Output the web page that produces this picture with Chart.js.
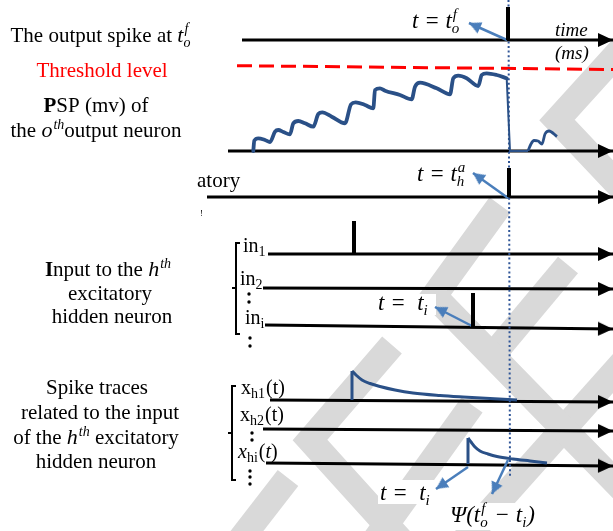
<!DOCTYPE html>
<html>
<head>
<meta charset="utf-8">
<title>Output spike, PSP and spike traces</title>
<script src="https://cdn.jsdelivr.net/npm/chart.js@4.4.1/dist/chart.umd.min.js"></script>
<style>
  html, body { margin: 0; padding: 0; background: #fff; }
  #diagram { display: block; }
</style>
</head>
<body>
<canvas id="diagram" width="613" height="531"></canvas>
<script>
// Time rows: output spike, threshold, PSP, hidden spike, in1, in2, ini, xh1, xh2, xhi
const rowStartX = [242, 237, 228, 207, 268, 263, 265, 270, 263, 266];
const rowEndX = [613, 613, 613, 613, 613, 613, 613, 613, 613, 613];
const rowStartY = [40, 65.7, 151, 197, 254, 288, 325, 400, 429, 463];
const rowEndY = [40, 69.5, 151, 197, 254, 289, 329, 402, 431, 466];
const thresholdRow = 1;

// Spikes (output, hidden, in1, ini)
const spikeX = [508, 509, 354, 473];
const spikeBase = [40, 197, 254, 327];
const spikeTop = [7, 168, 221, 293];

// Membrane potential of the output neuron
const pspX = [253.3, 254.3, 258.3, 265, 270, 275, 278.3, 283.3, 290, 293.3, 298.3, 305, 313.3,
  318.3, 322.3, 331.7, 345, 351, 355.7, 365, 373.3, 375, 380, 385, 400, 411.7, 415, 420,
  436.7, 450, 453.3, 458.3, 466.7, 478.3, 481.7, 486.7, 496.7, 506.7];
const pspY = [151, 140.7, 138.3, 140, 142, 131.7, 130, 132, 134.3, 123.3, 121, 123.3, 126.7,
  114, 112.3, 116.7, 123.3, 104.3, 102.3, 105, 108.3, 90, 88.3, 90.7, 95, 99.3, 86.7, 82.7,
  88.3, 94.3, 78.3, 75.7, 78.3, 86, 75, 73.3, 75, 78.3];
const resetX = [506.7, 510, 528];
const resetY = [78.3, 151, 151];
const afterX = [528, 531, 534, 538, 542, 545, 549, 557];
const afterY = [151, 144, 140.5, 141, 144, 134, 131, 136.5];

// Spike traces
const trace1X = [352, 352, 356, 362, 370, 380, 395, 413, 440, 463, 490, 517];
const trace1Y = [400, 371, 375, 380, 383.5, 386.5, 390, 393, 395.5, 397, 398.5, 400];
const trace2X = [468, 468, 471, 475, 480, 488, 497, 513, 530, 547];
const trace2Y = [464, 438, 442, 447, 451, 454, 456.5, 459, 461, 463];

// Firing time marker
const markX = [508.5, 510];
const markY = [0, 477];

// Annotation arrows (from -> tip)
const annFromX = [507, 508, 472, 468, 508];
const annFromY = [40, 198, 326, 467, 460];
const annToX = [469, 473, 435, 436, 492];
const annToY = [23, 173, 307, 489, 494];

// Vertical ellipsis dots
const dotX = [249, 249, 250, 250, 252, 252, 250, 250, 250];
const dotY = [294, 302, 338, 346, 433, 440, 471, 477, 484];

// Brackets
const bracketInX = [240, 236, 236, 240];
const bracketInY = [243, 243, 334, 334];
const bracketTrX = [236, 232, 232, 236];
const bracketTrY = [386, 386, 480, 480];
const tickX = [[236, 232], [232, 228]];
const tickY = [[288, 288], [433, 433]];

// Background watermark strokes
const wmX = [[625, 557, 625], [500, 434, 625], [392, 310, 405], [497, 568], [240, 288], [375, 472], [625, 460]];
const wmY = [[45, 120, 192], [205, 296, 492], [345, 440, 545], [350, 265], [540, 478], [540, 405], [360, 545]];

const INK = '#000000';
const PSP_BLUE = '#2a5087';
const ARROW_BLUE = '#4a7ebb';
const GREY = '#d9d9d9';

function pts(xs, ys) {
  return xs.map((x, i) => ({ x: x, y: ys[i] }));
}

function makeHead(color, len, half) {
  const c = document.createElement('canvas');
  c.width = len * 2;
  c.height = half * 2;
  const g = c.getContext('2d');
  g.fillStyle = color;
  g.beginPath();
  g.moveTo(len, half);
  g.lineTo(0, 0);
  g.lineTo(0, half * 2);
  g.closePath();
  g.fill();
  return c;
}
const blackHead = makeHead(INK, 15, 7);
const blueHead = makeHead(ARROW_BLUE, 12, 6);

function line(xs, ys, color, width, extra) {
  return Object.assign({
    data: pts(xs, ys),
    showLine: true,
    borderColor: color,
    backgroundColor: color,
    borderWidth: width,
    pointRadius: 0,
    tension: 0,
    order: 3
  }, extra || {});
}

function arrowLine(xs, ys, color, width, head, extra) {
  const n = xs.length;
  const ang = Math.atan2(ys[n - 1] - ys[n - 2], xs[n - 1] - xs[n - 2]) * 180 / Math.PI;
  return line(xs, ys, color, width, Object.assign({
    pointRadius: ctx => ctx.dataIndex === n - 1 ? 1 : 0,
    pointStyle: head,
    rotation: ang
  }, extra || {}));
}

const datasets = [];

// watermark first in the list but drawn underneath (highest order)
wmX.forEach((xs, i) => {
  datasets.push(line(xs, wmY[i], GREY, 26, { order: 20, wm: true, borderJoinStyle: 'miter' }));
});

rowStartX.forEach((x0, i) => {
  if (i === thresholdRow) {
    datasets.push(line([x0, rowEndX[i]], [rowStartY[i], rowEndY[i]], '#ff0000', 3,
      { borderDash: [15, 7], order: 6 }));
  } else {
    datasets.push(arrowLine([x0, rowEndX[i]], [rowStartY[i], rowEndY[i]], INK, 3, blackHead, { order: 6 }));
  }
});

// dotted firing-time marker sits under the spikes
datasets.push(line(markX, markY, '#2f5597', 2, { borderDash: [2, 2.6], order: 5.5 }));

spikeX.forEach((x, i) => {
  datasets.push(line([x, x], [spikeBase[i], spikeTop[i]], INK, 4, { order: 1 }));
});

const smooth = { cubicInterpolationMode: 'monotone', order: 4 };
datasets.push(line(pspX, pspY, PSP_BLUE, 3.8, Object.assign({ borderCapStyle: 'round', borderJoinStyle: 'round' }, smooth)));
datasets.push(line(resetX, resetY, PSP_BLUE, 2, { order: 4 }));
datasets.push(line(afterX, afterY, PSP_BLUE, 2.8, smooth));

datasets.push(line(trace1X.slice(0, 2), trace1Y.slice(0, 2), PSP_BLUE, 3, { order: 4 }));
datasets.push(line(trace1X.slice(1), trace1Y.slice(1), PSP_BLUE, 3, smooth));
datasets.push(line(trace2X.slice(0, 2), trace2Y.slice(0, 2), PSP_BLUE, 3, { order: 4 }));
datasets.push(line(trace2X.slice(1), trace2Y.slice(1), PSP_BLUE, 3, smooth));

annFromX.forEach((x, i) => {
  datasets.push(arrowLine([x, annToX[i]], [annFromY[i], annToY[i]], ARROW_BLUE, 2.5, blueHead, { order: 2 }));
});

datasets.push({
  data: pts(dotX, dotY),
  showLine: false,
  pointRadius: 1.7,
  pointBackgroundColor: INK,
  pointBorderWidth: 0,
  order: 3
});

datasets.push(line(bracketInX, bracketInY, INK, 2));
datasets.push(line(bracketTrX, bracketTrY, INK, 2));
tickX.forEach((xs, i) => datasets.push(line(xs, tickY[i], INK, 2)));

// ---- text ----
const FACE = '"Liberation Serif", "Times New Roman", serif';
function fnt(size, style) {
  return (style || '') + ' ' + size + 'px ' + FACE;
}
const R = fnt(21), B = fnt(21, 'bold'), I = fnt(22, 'italic'), S = fnt(14, 'italic');
const U = fnt(20), US = fnt(14), UI = fnt(20, 'italic');
const M = fnt(23, 'italic'), MS = fnt(15, 'italic');

function partWidth(ctx, p) {
  ctx.font = p.f;
  if (p.sup !== undefined || p.sub !== undefined) {
    return Math.max(ctx.measureText(p.sup || '').width, ctx.measureText(p.sub || '').width) + 1;
  }
  return ctx.measureText(p.t).width;
}

function drawRich(ctx, parts, x, y, align, color) {
  const w = parts.reduce((s, p) => s + partWidth(ctx, p), 0);
  let cx = align === 'center' ? x - w / 2 : x;
  ctx.textAlign = 'left';
  ctx.textBaseline = 'alphabetic';
  parts.forEach(p => {
    ctx.fillStyle = p.c || color || INK;
    ctx.font = p.f;
    if (p.sup !== undefined || p.sub !== undefined) {
      if (p.sup) ctx.fillText(p.sup, cx + 1, y - (p.up || 9));
      if (p.sub) ctx.fillText(p.sub, cx, y + (p.down || 5));
    } else {
      ctx.fillText(p.t, cx, y);
    }
    cx += partWidth(ctx, p);
  });
}

const labels = [
  { parts: [{ t: 'The output spike at ', f: R }, { t: 't', f: I }, { sup: 'f', sub: 'o', f: S }], x: 101, y: 42, a: 'center' },
  { parts: [{ t: 'Threshold level', f: R }], x: 102, y: 77, a: 'center', c: '#ff0000' },
  { parts: [{ t: 'P', f: B }, { t: 'SP (mv) of', f: R }], x: 96, y: 112, a: 'center' },
  { parts: [{ t: 'the ', f: R }, { t: 'o', f: I }, { sup: 'th', f: S, up: 8 }, { t: 'output neuron', f: R }], x: 96, y: 137, a: 'center' },
  { parts: [{ t: 'atory', f: R }], x: 197, y: 187 },
  { parts: [{ t: '!', f: fnt(9) }], x: 200, y: 216 },
  { parts: [{ t: 'I', f: B }, { t: 'nput to the ', f: R }, { t: 'h', f: I }, { sup: 'th', f: S, up: 8 }], x: 108, y: 276, a: 'center' },
  { parts: [{ t: 'excitatory', f: R }], x: 110, y: 300, a: 'center' },
  { parts: [{ t: 'hidden neuron', f: R }], x: 112, y: 323, a: 'center' },
  { parts: [{ t: 'Spike traces', f: R }], x: 97, y: 394, a: 'center' },
  { parts: [{ t: 'related to the input', f: R }], x: 100, y: 419, a: 'center' },
  { parts: [{ t: 'of the ', f: R }, { t: 'h', f: I }, { sup: 'th', f: S, up: 8 }, { t: ' excitatory', f: R }], x: 96, y: 444, a: 'center' },
  { parts: [{ t: 'hidden neuron', f: R }], x: 96, y: 468, a: 'center' },

  { parts: [{ t: 't = t', f: M }, { sup: 'f', sub: 'o', f: MS }], x: 412, y: 28 },
  { parts: [{ t: 't = t', f: M }, { sup: 'a', sub: 'h', f: MS }], x: 417, y: 181 },
  { parts: [{ t: 't =  t', f: M }, { sub: 'i', f: MS }], x: 378, y: 310 },
  { parts: [{ t: 't =  t', f: M }, { sub: 'i', f: MS }], x: 380, y: 500 },
  { parts: [{ t: 'Ψ(t', f: M }, { sup: 'f', sub: 'o', f: MS }, { t: ' − t', f: M }, { sub: 'i', f: MS }, { t: ')', f: M }], x: 450, y: 522 },
  { parts: [{ t: 'time', f: fnt(19, 'italic') }], x: 555, y: 36 },
  { parts: [{ t: '(ms)', f: fnt(19, 'italic') }], x: 555, y: 59 },

  { parts: [{ t: 'in', f: U }, { sub: '1', f: US, down: 4 }], x: 243, y: 252 },
  { parts: [{ t: 'in', f: U }, { sub: '2', f: US, down: 4 }], x: 240, y: 285 },
  { parts: [{ t: 'in', f: U }, { sub: 'i', f: US, down: 4 }], x: 245, y: 324 },
  { parts: [{ t: 'x', f: U }, { sub: 'h1', f: US, down: 4 }, { t: '(t)', f: U }], x: 241, y: 394 },
  { parts: [{ t: 'x', f: U }, { sub: 'h2', f: US, down: 4 }, { t: '(t)', f: U }], x: 240, y: 421 },
  { parts: [{ t: 'x', f: UI }, { sub: 'hi', f: US, down: 4 }, { t: '(', f: U }, { t: 't', f: UI }, { t: ')', f: U }], x: 238, y: 458 }
];

// white backing boxes behind some math labels (cover the watermark)
const boxes = [[376, 294, 60, 21], [378, 480, 60, 24], [447, 503, 100, 27]];

let boxesDone = false;
const textPlugin = {
  id: 'diagramText',
  beforeDraw() {
    boxesDone = false;
  },
  beforeDatasetDraw(chart, args) {
    if (boxesDone || chart.data.datasets[args.index].wm) return;
    const { ctx, scales } = chart;
    ctx.save();
    ctx.fillStyle = '#ffffff';
    boxes.forEach(b => {
      const x0 = scales.x.getPixelForValue(b[0]);
      const y0 = scales.y.getPixelForValue(b[1]);
      const x1 = scales.x.getPixelForValue(b[0] + b[2]);
      const y1 = scales.y.getPixelForValue(b[1] + b[3]);
      ctx.fillRect(x0, y0, x1 - x0, y1 - y0);
    });
    ctx.restore();
    boxesDone = true;
  },
  afterDatasetsDraw(chart) {
    const { ctx, scales } = chart;
    ctx.save();
    labels.forEach(l => {
      drawRich(ctx, l.parts, scales.x.getPixelForValue(l.x), scales.y.getPixelForValue(l.y), l.a, l.c);
    });
    ctx.restore();
  }
};

new Chart(document.getElementById('diagram'), {
  type: 'scatter',
  data: { datasets: datasets },
  options: {
    responsive: false,
    devicePixelRatio: 1,
    animation: false,
    events: [],
    layout: { padding: 0, autoPadding: false },
    plugins: {
      legend: { display: false },
      tooltip: { enabled: false },
      title: { display: false }
    },
    scales: {
      x: { type: 'linear', min: 0, max: 613, display: false },
      y: { type: 'linear', min: 0, max: 531, reverse: true, display: false }
    }
  },
  plugins: [textPlugin]
});
</script>
</body>
</html>
